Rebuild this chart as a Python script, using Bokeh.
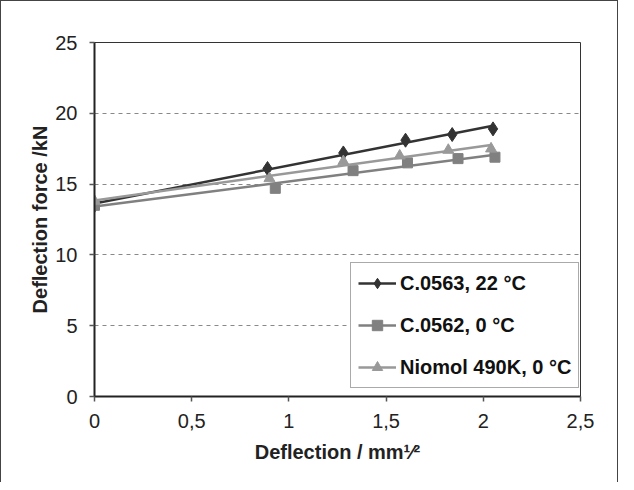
import numpy as np
from bokeh.plotting import figure
from bokeh.models import Legend, LegendItem, FixedTicker, CustomJSTickFormatter
from bokeh.embed import file_html
from bokeh.resources import INLINE

# ---- data ----
x_c0563 = [0.0, 0.89, 1.28, 1.60, 1.84, 2.05]
y_c0563 = [13.5, 16.1, 17.2, 18.1, 18.5, 18.9]

x_c0562 = [0.0, 0.93, 1.33, 1.61, 1.87, 2.06]
y_c0562 = [13.5, 14.7, 15.95, 16.5, 16.8, 16.9]

x_niomol = [0.0, 0.90, 1.28, 1.57, 1.82, 2.04]
y_niomol = [13.8, 15.4, 16.6, 17.0, 17.4, 17.5]

names = ["C.0563, 22 °C", "C.0562, 0 °C", "Niomol 490K, 0 °C"]
x_ticks = [0, 0.5, 1, 1.5, 2, 2.5]
y_ticks = [0, 5, 10, 15, 20, 25]
x_title = "Deflection / mm\u00b9\u2044\u00b2"
y_title = "Deflection force /kN"

FONT = "Liberation Sans"

p = figure(width=618, height=482, x_range=(0, 2.5), y_range=(0, 25),
           output_backend="svg", toolbar_location=None,
           min_border_left=93, min_border_right=39, min_border_top=41, min_border_bottom=87)
p.styles = {"border-left": "1px solid #444", "border-top": "1px solid #444",
            "border-right": "1px solid #444", "box-sizing": "border-box"}

p.outline_line_color = "#333333"
p.outline_line_width = 1
p.xgrid.grid_line_color = None
p.ygrid.grid_line_color = "#888888"
p.ygrid.grid_line_dash = "4 4"
p.ygrid.grid_line_width = 1

for ax in (p.xaxis[0], p.yaxis[0]):
    ax.axis_line_color = "#222222"
    ax.axis_line_width = 2
    ax.major_tick_line_color = "#555555"
    ax.major_tick_line_width = 1.5
    ax.major_tick_in = 0
    ax.major_tick_out = 5
    ax.minor_tick_line_color = None
    ax.major_label_text_font = FONT
    ax.major_label_text_font_size = "20px"
    ax.major_label_text_color = "#222222"
    ax.axis_label_text_font = FONT
    ax.axis_label_text_font_style = "bold"
    ax.axis_label_text_font_size = "20px"
    ax.axis_label_text_color = "#222222"

p.xaxis.ticker = FixedTicker(ticks=x_ticks)
p.yaxis.ticker = FixedTicker(ticks=y_ticks)
p.xaxis.formatter = CustomJSTickFormatter(code="return String(tick).replace('.', ',');")
p.xaxis.major_label_standoff = 12
p.yaxis.major_label_standoff = 12
p.yaxis.axis_label = y_title
p.yaxis.axis_label_standoff = 1
p.xaxis.axis_label = x_title
p.xaxis.axis_label_standoff = 10

series = [
    (x_c0563, y_c0563, "#333333", "diamond", 14),
    (x_c0562, y_c0562, "#808080", "square", 10),
    (x_niomol, y_niomol, "#999999", "triangle", 11),
]
items = []
for (xs, ys, col, mk, sz), name in zip(series, names):
    k, b = np.polyfit(xs, ys, 1)
    fx = [min(xs), max(xs)]
    fy = [k * v + b for v in fx]
    ln = p.line(fx, fy, line_color=col, line_width=2.5)
    sc = p.scatter(xs, ys, marker=mk, size=sz, fill_color=col, line_color=col)
    items.append(LegendItem(label=name, renderers=[ln, sc]))

legend = Legend(items=items, location=(256, 8), orientation="vertical",
                label_text_font=FONT, label_text_font_style="bold",
                label_text_font_size="20px", label_text_color="#111111",
                glyph_width=38, glyph_height=26, label_height=26, label_standoff=4,
                spacing=16, padding=7, margin=0,
                border_line_color="#555555", border_line_width=1.5,
                background_fill_color="white", background_fill_alpha=1)
p.add_layout(legend, "center")

open("out.html", "w").write(file_html(p, INLINE))
